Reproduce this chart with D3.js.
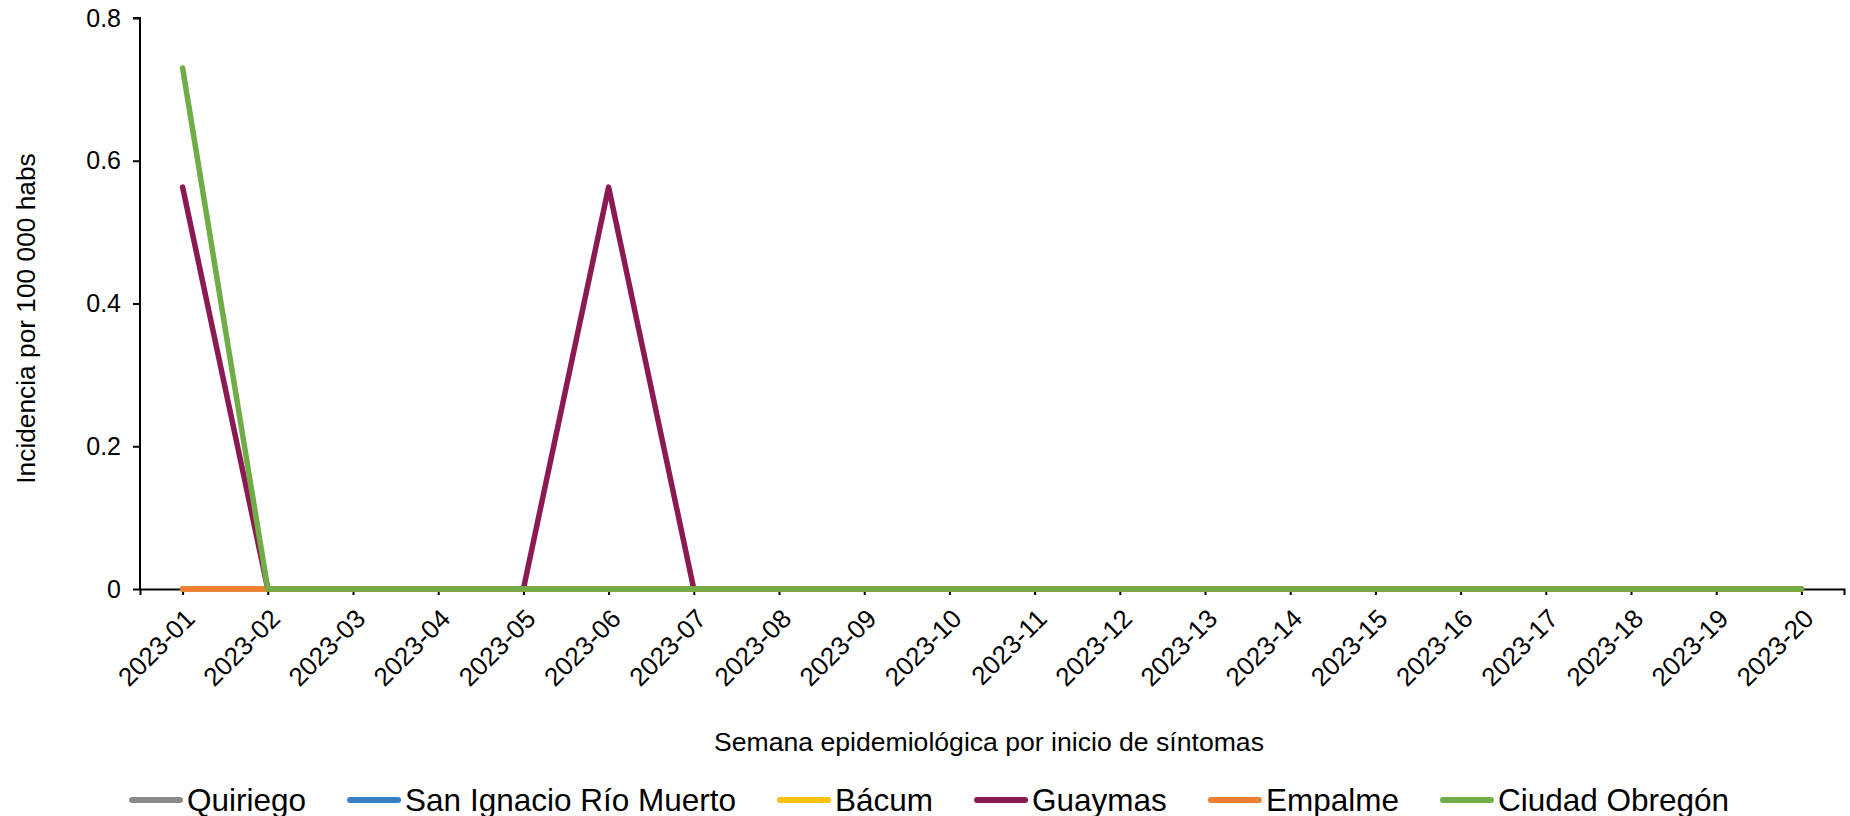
<!DOCTYPE html>
<html>
<head>
<meta charset="utf-8">
<script src="https://cdn.jsdelivr.net/npm/d3@7"></script>
<style>
  html, body { margin: 0; padding: 0; background: #fff; }
  svg { display: block; font-family: "Liberation Sans", Arial, sans-serif; }
</style>
</head>
<body>
<svg id="chart" width="1850" height="816"></svg>
<script>
// ---- data ----
const weeks = ["2023-01","2023-02","2023-03","2023-04","2023-05","2023-06","2023-07","2023-08","2023-09","2023-10",
               "2023-11","2023-12","2023-13","2023-14","2023-15","2023-16","2023-17","2023-18","2023-19","2023-20"];
const seriesNames = ["Quiriego","San Ignacio Río Muerto","Bácum","Guaymas","Empalme","Ciudad Obregón"];
const seriesColors = ["#898989","#3a7dc4","#fcc00a","#8c1a52","#ee7f30","#70ad46"];
const quiriego      = [0,0,0,0,0,0,0,0,0,0,0,0,0,0,0,0,0,0,0,0];
const sanIgnacio    = [0,0,0,0,0,0,0,0,0,0,0,0,0,0,0,0,0,0,0,0];
const bacum         = [0,0,0,0,0,0,0,0,0,0,0,0,0,0,0,0,0,0,0,0];
const guaymas       = [0.563,0,0,0,0,0.563,0,0,0,0,0,0,0,0,0,0,0,0,0,0];
const empalme       = [0,0,0,0,0,0,0,0,0,0,0,0,0,0,0,0,0,0,0,0];
const ciudadObregon = [0.73,0,0,0,0,0,0,0,0,0,0,0,0,0,0,0,0,0,0,0];
const yTicks = [0, 0.2, 0.4, 0.6, 0.8];
const yTickLabels = ["0","0.2","0.4","0.6","0.8"];
const yTitle = "Incidencia por 100 000 habs";
const xTitle = "Semana epidemiológica por inicio de síntomas";

const seriesValues = [quiriego, sanIgnacio, bacum, guaymas, empalme, ciudadObregon];

// ---- layout ----
const svg = d3.select("#chart");
const mLeft = 140, mRight = 1844, mTop = 18, mBottom = 589;

const x = d3.scalePoint().domain(weeks).range([mLeft, mRight]).padding(0.5);
const y = d3.scaleLinear().domain([0, 0.8]).range([mBottom, mTop]);

// y axis
const yAxis = svg.append("g").attr("transform", `translate(${mLeft},0)`)
  .call(d3.axisLeft(y).tickValues(yTicks).tickFormat((d,i) => yTickLabels[i]).tickSize(7).tickPadding(12));
yAxis.select(".domain").attr("stroke", "#000").attr("stroke-width", 2).attr("d", `M-7,${mTop}H0V${mBottom}`);
yAxis.selectAll(".tick line").attr("stroke", "#000").attr("stroke-width", 2);
yAxis.selectAll(".tick text").attr("font-size", 25).attr("fill", "#000")
  .attr("font-family", "Liberation Sans, Arial, sans-serif");

// x axis
const xAxis = svg.append("g").attr("transform", `translate(0,${mBottom})`)
  .call(d3.axisBottom(x).tickSize(6).tickSizeOuter(6));
xAxis.select(".domain").attr("stroke", "#000").attr("stroke-width", 2);
xAxis.selectAll(".tick line").attr("stroke", "#000").attr("stroke-width", 2);
xAxis.selectAll(".tick text")
  .attr("font-size", 26).attr("fill", "#000")
  .attr("font-family", "Liberation Sans, Arial, sans-serif")
  .attr("text-anchor", "end")
  .attr("dy", null).attr("y", null)
  .attr("transform", "translate(7,25) rotate(-45)")
  .attr("dominant-baseline", "central");

// lines
const line = d3.line().x((d,i) => x(weeks[i])).y(d => y(d));
seriesValues.forEach((vals, si) => {
  svg.append("path")
    .datum(vals)
    .attr("d", line)
    .attr("fill", "none")
    .attr("stroke", seriesColors[si])
    .attr("stroke-width", 5.5)
    .attr("stroke-linecap", "round")
    .attr("stroke-linejoin", "round");
});

// axis titles
svg.append("text")
  .attr("transform", `translate(26,${(mTop+mBottom)/2+15}) rotate(-90)`)
  .attr("text-anchor", "middle").attr("dominant-baseline", "central")
  .attr("font-size", 26.3).attr("fill", "#000").text(yTitle);

svg.append("text")
  .attr("x", 989).attr("y", 742)
  .attr("text-anchor", "middle").attr("dominant-baseline", "central")
  .attr("font-size", 26.6).attr("fill", "#000").text(xTitle);

// legend
const legendY = 800;
let lx = 129;
seriesNames.forEach((name, si) => {
  const g = svg.append("g");
  g.append("line").attr("x1", lx + 3).attr("x2", lx + 51).attr("y1", legendY).attr("y2", legendY)
    .attr("stroke", seriesColors[si]).attr("stroke-width", 6).attr("stroke-linecap", "round");
  const t = g.append("text").attr("x", lx + 58).attr("y", legendY)
    .attr("dominant-baseline", "central").attr("font-size", 31.5).attr("fill", "#000").text(name);
  const w = t.node().getComputedTextLength();
  lx = lx + 58 + w + 41;
});
</script>
</body>
</html>
